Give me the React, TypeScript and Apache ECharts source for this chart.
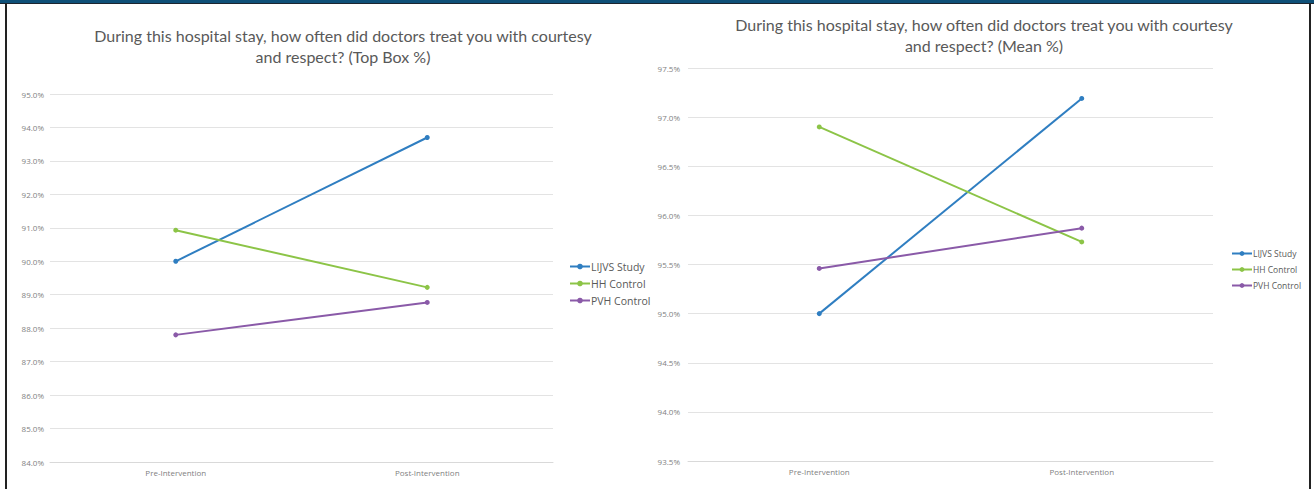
import React, { useEffect, useRef } from "react";
import * as echarts from "echarts";

const categories = ["Pre-Intervention", "Post-Intervention"];
const seriesNames = ["LIJVS Study", "HH Control", "PVH Control"];
const seriesColors = ["#2f7ec1", "#8cc447", "#8a5aa8"];

const topBoxLIJVS = [90.0, 93.7];
const topBoxHH = [90.93, 89.22];
const topBoxPVH = [87.8, 88.77];

const meanLIJVS = [95.0, 97.19];
const meanHH = [96.9, 95.73];
const meanPVH = [95.46, 95.87];

const titleTopBox = "During this hospital stay, how often did doctors treat you with courtesy\nand respect? (Top Box %)";
const titleMean = "During this hospital stay, how often did doctors treat you with courtesy\nand respect? (Mean %)";

export default function App() {
  const ref = useRef<HTMLDivElement>(null);

  useEffect(() => {
    if (!ref.current) return;
    const chart = echarts.init(ref.current, undefined, { renderer: "svg" });
    const axisFont = { fontFamily: "Open Sans", fontSize: 8, color: "#7f7f7f" };
    const mkSeries = (data: number[][], xi: number) =>
      data.map((d, i) => ({
        type: "line" as const,
        symbol: "circle",
        symbolSize: 5,
        name: seriesNames[i],
        xAxisIndex: xi,
        yAxisIndex: xi,
        data: d,
        itemStyle: { color: seriesColors[i] },
        lineStyle: { width: 2, color: seriesColors[i] },
      }));

    const titleStyle = { fontFamily: "Lato", fontSize: 16, fontWeight: "normal", color: "#595959", lineHeight: 21 };

    chart.setOption({
      animation: false,
      color: seriesColors,
      title: [
        { text: titleTopBox, left: 338, top: 20, textAlign: "center", textStyle: titleStyle },
        { text: titleMean, left: 979, top: 9, textAlign: "center", textStyle: titleStyle },
      ],
      legend: [
        {
          orient: "vertical",
          left: 564,
          top: 256,
          itemGap: 6,
          itemWidth: 20,
          itemHeight: 7,
          data: seriesNames,
          textStyle: { fontFamily: "Open Sans", fontSize: 10.5, color: "#595959", padding: [0, 0, 0, -4] },
        },
        {
          orient: "vertical",
          left: 1226,
          top: 244,
          itemGap: 7,
          itemWidth: 20,
          itemHeight: 6,
          data: seriesNames,
          textStyle: { fontFamily: "Open Sans", fontSize: 8.5, color: "#595959", padding: [0, 0, 0, -4] },
        },
      ],
      grid: [
        { left: 50, top: 94, width: 503, height: 368 },
        { left: 688, top: 68, width: 525, height: 393 },
      ],
      xAxis: [0, 1].map((i) => ({
        type: "category",
        gridIndex: i,
        data: categories,
        boundaryGap: true,
        axisLine: { show: true, lineStyle: { color: "#d9d9d9" } },
        axisTick: { show: false },
        axisLabel: { ...axisFont, margin: 6 },
      })),
      yAxis: [
        {
          type: "value",
          gridIndex: 0,
          min: 84,
          max: 95,
          interval: 1,
          axisLine: { show: false },
          axisTick: { show: false },
          splitLine: { lineStyle: { color: "#e3e3e3" } },
          axisLabel: { ...axisFont, margin: 6, formatter: (v: number) => v.toFixed(1) + "%" },
        },
        {
          type: "value",
          gridIndex: 1,
          min: 93.5,
          max: 97.5,
          interval: 0.5,
          axisLine: { show: false },
          axisTick: { show: false },
          splitLine: { lineStyle: { color: "#e3e3e3" } },
          axisLabel: { ...axisFont, margin: 8, formatter: (v: number) => v.toFixed(1) + "%" },
        },
      ],
      series: [
        ...mkSeries([topBoxLIJVS, topBoxHH, topBoxPVH], 0),
        ...mkSeries([meanLIJVS, meanHH, meanPVH], 1),
      ],
    });
    return () => chart.dispose();
  }, []);

  return (
    <div style={{ position: "absolute", left: 0, top: 0, width: 1314, height: 489, background: "#ffffff", overflow: "hidden" }}>
      <div ref={ref} style={{ position: "absolute", left: 0, top: 0, width: 1314, height: 489 }} />
      <div style={{ position: "absolute", left: 0, top: 0, width: 1314, height: 3, background: "#0e5078" }} />
      <div style={{ position: "absolute", left: 0, top: 3, width: 1314, height: 1, background: "#1c2530" }} />
      <div style={{ position: "absolute", left: 5, top: 3, width: 2, height: 486, background: "#222222" }} />
      <div style={{ position: "absolute", left: 1309, top: 3, width: 2, height: 486, background: "#222222" }} />
    </div>
  );
}
